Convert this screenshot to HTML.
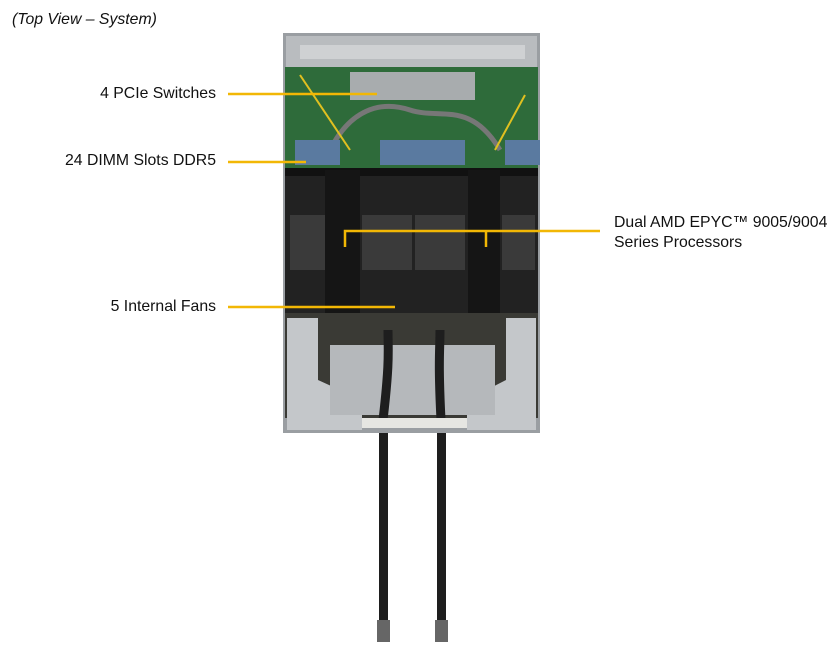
<!DOCTYPE html>
<html><head><style>
body{margin:0;background:#fff;width:830px;height:656px;overflow:hidden;position:relative;font-family:"Liberation Sans",sans-serif;}
.t{position:absolute;font-size:15.8px;color:#111;white-space:nowrap;}
</style></head><body>
<svg width="830" height="656" style="position:absolute;left:0;top:0">
<rect x="379" y="420" width="9" height="205" fill="#1e1e1e"/>
<rect x="437" y="420" width="9" height="205" fill="#1e1e1e"/>
<rect x="377" y="620" width="13" height="22" fill="#666"/>
<rect x="435" y="620" width="13" height="22" fill="#666"/>
<rect x="283" y="33" width="257" height="400" fill="#9a9ea2"/>
<rect x="286" y="36" width="251" height="31" fill="#b9bcbf"/>
<rect x="300" y="45" width="225" height="14" fill="#cfd1d3"/>
<rect x="285" y="67" width="253" height="101" fill="#2e6b3a"/>
<rect x="350" y="72" width="125" height="28" fill="#a8acae"/>
<path d="M330 150 C350 110 380 100 410 110 S470 100 500 150" stroke="#777" stroke-width="5" fill="none"/>
<path d="M300 75 L350 150 M525 95 L495 150" stroke="#e0c020" stroke-width="2" fill="none"/>
<rect x="295" y="140" width="45" height="25" fill="#5a7aa0"/>
<rect x="380" y="140" width="45" height="25" fill="#5a7aa0"/>
<rect x="420" y="140" width="45" height="25" fill="#5a7aa0"/>
<rect x="505" y="140" width="35" height="25" fill="#5a7aa0"/>
<rect x="285" y="168" width="253" height="145" fill="#222"/>
<rect x="285" y="168" width="253" height="8" fill="#111"/>
<rect x="290" y="215" width="35" height="55" fill="#3a3a3a"/>
<rect x="362" y="215" width="50" height="55" fill="#3a3a3a"/>
<rect x="415" y="215" width="50" height="55" fill="#3a3a3a"/>
<rect x="502" y="215" width="33" height="55" fill="#3a3a3a"/>
<rect x="325" y="170" width="35" height="143" fill="#151515"/>
<rect x="468" y="170" width="32" height="143" fill="#151515"/>
<rect x="285" y="313" width="253" height="105" fill="#3a3a35"/>
<path d="M287 318 L318 318 L318 380 L362 400 L362 430 L287 430 Z" fill="#c4c7ca"/>
<path d="M536 318 L506 318 L506 380 L467 400 L467 430 L536 430 Z" fill="#c4c7ca"/>
<rect x="330" y="345" width="165" height="70" fill="#b5b8bb"/>
<path d="M388 330 C388 350 390 360 383 420 M440 330 C440 350 438 360 441 420" stroke="#1e1e1e" stroke-width="9" fill="none"/>
<rect x="362" y="418" width="105" height="10" fill="#e6e6e2"/>
<g stroke="#f2b705" stroke-width="2.5" fill="none">
<line x1="228" y1="94" x2="377" y2="94"/>
<line x1="228" y1="162" x2="306" y2="162"/>
<line x1="228" y1="307" x2="395" y2="307"/>
<polyline points="345,247 345,231 600,231"/>
<line x1="486" y1="231" x2="486" y2="247"/>
</g>
</svg>
<div class="t" style="left:12px;top:11px;font-style:italic;">(Top View – System)</div>
<div class="t" style="right:614px;top:85px;">4 PCIe Switches</div>
<div class="t" style="right:614px;top:152px;">24 DIMM Slots DDR5</div>
<div class="t" style="right:614px;top:298px;">5 Internal Fans</div>
<div class="t" style="left:614px;top:213px;line-height:20px;">Dual AMD EPYC™ 9005/9004<br>Series Processors</div>
</body></html>
